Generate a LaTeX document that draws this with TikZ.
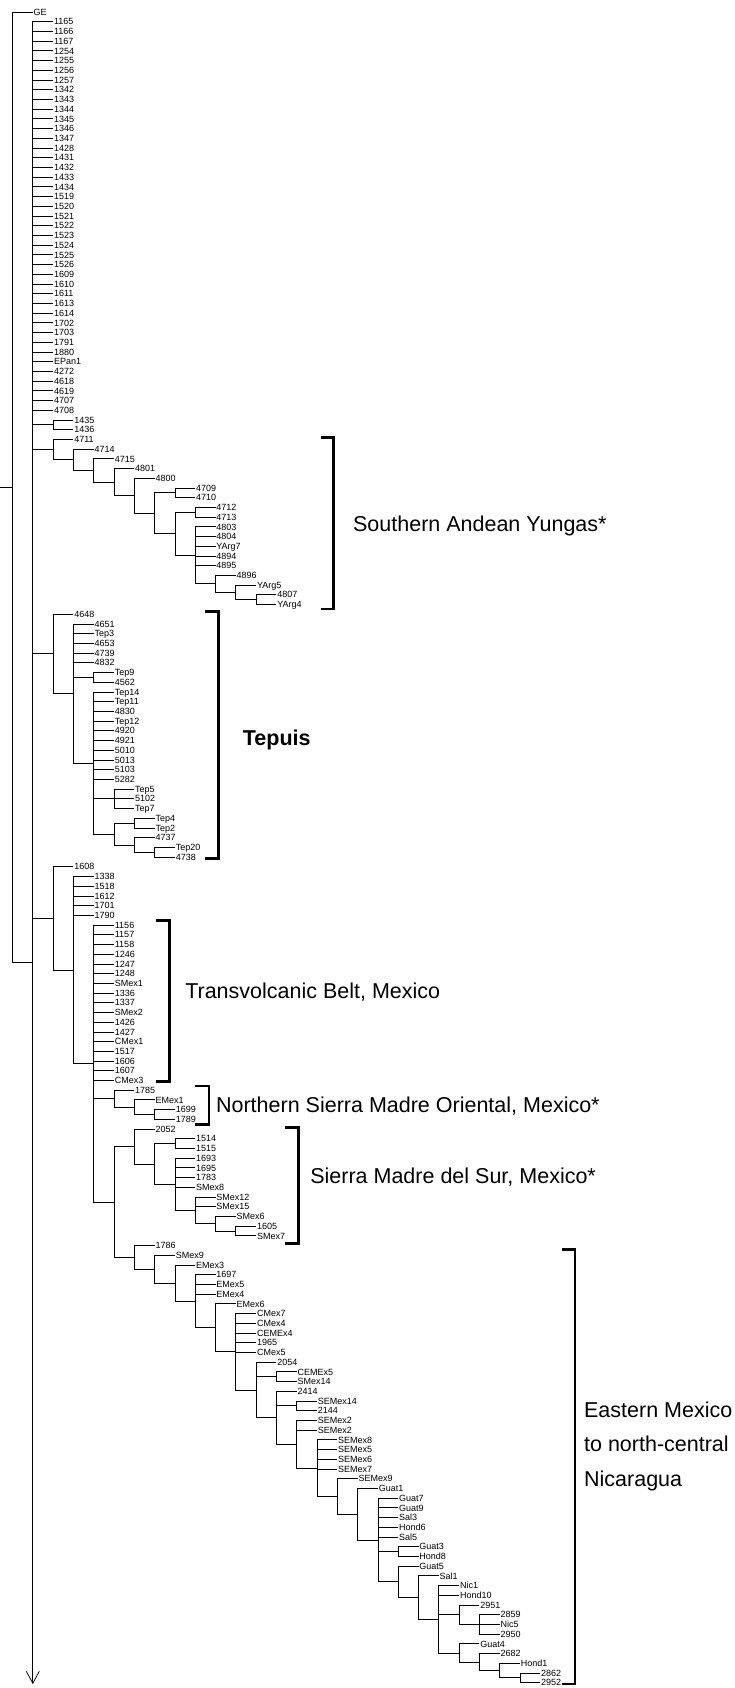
\documentclass[tikz,border=0pt]{standalone}
\usepackage{fontspec}
\setmainfont{Liberation Sans}
\usetikzlibrary{arrows.meta, positioning}

% parent, level, first row, labels
\newcommand{\taxa}[4]{%
  \foreach \t [count=\r from #3] in {#4} {
    \node[leaf] (t\t) at (#2,\r) {\t};
    \draw[branch] (#1) |- (t\t);
  }}

\begin{document}
\begin{tikzpicture}[x=20.3pt,y=-9.713pt,>={Straight Barb[length=12pt,width=13pt]},
        leaf/.style={anchor=west,inner sep=0.9pt,outer sep=0pt,text height=6.4pt,text depth=0pt,font=\fontsize{9}{9}\selectfont},
        branch/.style={line width=0.75pt},
        bracket/.style={line width=2.6pt,line join=miter},
        group/.style={anchor=base west,inner sep=0pt,font=\fontsize{21.5}{34.4}\selectfont}]

    \useasboundingbox (-0.616,-1.236) rectangle (35.542,172.552);

    % root and outgroup
    \coordinate (stub) at (-0.616,48.905);
    \coordinate (R) at (0,48.905);
    \coordinate (A) at (1,97.81);
    \coordinate (tail) at (1,172.15);
    \node[leaf] (tGE) at (1,0) {GE};
    \draw[branch] (stub) -- (R) (R) |- (tGE) (R) |- (A);
    \draw[branch,->] (A) -- (tail);

    \taxa{A}{2}{1}{1165,1166,1167,1254,1255,1256,1257,1342,1343,1344,1345,1346,1347,1428,1431,1432,1433,1434,1519,1520,1521,1522,1523,1524,1525,1526,1609,1610,1611,1613,1614,1702,1703,1791,1880,EPan1,4272,4618,4619,4707,4708}

    \coordinate (B) at (2,42.5);
    \draw[branch] (A) |- (B);
    \taxa{B}{3}{42}{1435,1436}

    % Yungas
    \coordinate (C) at (2,45.050);
    \coordinate (C1) at (3,46.101);
    \coordinate (C2) at (4,47.201);
    \coordinate (C3) at (5,48.402);
    \coordinate (C4) at (6,49.805);
    \coordinate (C5) at (7,51.609);
    \coordinate (C6) at (8,49.5);
    \coordinate (C7) at (8,53.719);
    \coordinate (C8) at (9,51.5);
    \coordinate (C9) at (9,55.938);
    \coordinate (C10) at (10,58.875);
    \coordinate (C11) at (11,59.75);
    \coordinate (C12) at (12,60.5);
    \draw[branch] (A) |- (C) (C) |- (C1) (C1) |- (C2) (C2) |- (C3) (C3) |- (C4) (C4) |- (C5)
        (C5) |- (C6) (C5) |- (C7) (C7) |- (C8) (C7) |- (C9) (C9) |- (C10) (C10) |- (C11) (C11) |- (C12);
    \taxa{C}{3}{44}{4711}
    \taxa{C1}{4}{45}{4714}
    \taxa{C2}{5}{46}{4715}
    \taxa{C3}{6}{47}{4801}
    \taxa{C4}{7}{48}{4800}
    \taxa{C6}{9}{49}{4709,4710}
    \taxa{C8}{10}{51}{4712,4713}
    \taxa{C9}{10}{53}{4803,4804,YArg7,4894,4895}
    \taxa{C10}{11}{58}{4896}
    \taxa{C11}{12}{59}{YArg5}
    \taxa{C12}{13}{60}{4807,YArg4}

    % Tepuis
    \coordinate (D) at (2,66.078);
    \coordinate (D1) at (3,70.156);
    \coordinate (D2) at (4,68.5);
    \coordinate (D3) at (4,77.313);
    \coordinate (D4) at (5,81);
    \coordinate (D5) at (5,84.625);
    \coordinate (D6) at (6,83.5);
    \coordinate (D7) at (6,85.75);
    \coordinate (D8) at (7,86.5);
    \draw[branch] (A) |- (D) (D) |- (D1) (D1) |- (D2) (D1) |- (D3) (D3) |- (D4) (D3) |- (D5)
        (D5) |- (D6) (D5) |- (D7) (D7) |- (D8);
    \taxa{D}{3}{62}{4648}
    \taxa{D1}{4}{63}{4651,Tep3,4653,4739,4832}
    \taxa{D2}{5}{68}{Tep9,4562}
    \taxa{D3}{5}{70}{Tep14,Tep11,4830,Tep12,4920,4921,5010,5013,5103,5282}
    \taxa{D4}{6}{80}{Tep5,5102,Tep7}
    \taxa{D6}{7}{83}{Tep4,Tep2}
    \taxa{D7}{7}{85}{4737}
    \taxa{D8}{8}{86}{Tep20,4738}

    % Mexico
    \coordinate (E) at (2,93.313);
    \coordinate (E1) at (3,98.627);
    \coordinate (E2) at (4,108.253);
    \coordinate (N) at (5,111.875);
    \coordinate (N1) at (6,112.75);
    \coordinate (N2) at (7,113.5);
    \coordinate (F) at (5,122.507);
    \draw[branch] (A) |- (E) (E) |- (E1) (E1) |- (E2) (E2) |- (N) (N) |- (N1) (N1) |- (N2) (E2) |- (F);
    \taxa{E}{3}{88}{1608}
    \taxa{E1}{4}{89}{1338,1518,1612,1701,1790}
    \taxa{E2}{5}{94}{1156,1157,1158,1246,1247,1248,SMex1,1336,1337,SMex2,1426,1427,CMex1,1517,1606,1607,CMex3}
    \taxa{N}{6}{111}{1785}
    \taxa{N1}{7}{112}{EMex1}
    \taxa{N2}{8}{113}{1699,1789}

    \coordinate (S) at (6,116.797);
    \coordinate (S1) at (7,118.594);
    \coordinate (S2) at (8,116.5);
    \coordinate (S3) at (8,120.688);
    \coordinate (S4) at (9,123.375);
    \coordinate (S5) at (10,124.75);
    \coordinate (S6) at (11,125.5);
    \draw[branch] (F) |- (S) (S) |- (S1) (S1) |- (S2) (S1) |- (S3) (S3) |- (S4) (S4) |- (S5) (S5) |- (S6);
    \taxa{S}{7}{115}{2052}
    \taxa{S2}{9}{116}{1514,1515}
    \taxa{S3}{9}{118}{1693,1695,1783,SMex8}
    \taxa{S4}{10}{122}{SMex12,SMex15}
    \taxa{S5}{11}{124}{SMex6}
    \taxa{S6}{12}{125}{1605,SMex7}

    \coordinate (G) at (6,128.217);
    \coordinate (G1) at (7,129.433);
    \coordinate (G2) at (8,130.867);
    \coordinate (G3) at (9,132.733);
    \coordinate (G4) at (10,135.466);
    \coordinate (G5) at (11,137.932);
    \coordinate (G6) at (12,141.864);
    \coordinate (G7) at (13,140.5);
    \coordinate (G8) at (13,144.728);
    \coordinate (G9) at (14,143.5);
    \coordinate (G10) at (14,147.457);
    \coordinate (G11) at (15,149.914);
    \coordinate (G12) at (16,152.827);
    \coordinate (G13) at (17,154.654);
    \coordinate (G14) at (18,157.309);
    \coordinate (G15) at (19,158.5);
    \coordinate (G16) at (19,161.617);
    \coordinate (G17) at (20,163.234);
    \coordinate (G18) at (21,165.469);
    \coordinate (G19) at (22,165);
    \coordinate (G20) at (23,166);
    \coordinate (G21) at (22,168.938);
    \coordinate (G22) at (23,169.875);
    \coordinate (G23) at (24,170.75);
    \coordinate (G24) at (25,171.5);
    \draw[branch] (F) |- (G) (G) |- (G1) (G1) |- (G2) (G2) |- (G3) (G3) |- (G4) (G4) |- (G5) (G5) |- (G6)
        (G6) |- (G7) (G6) |- (G8) (G8) |- (G9) (G8) |- (G10) (G10) |- (G11) (G11) |- (G12) (G12) |- (G13)
        (G13) |- (G14) (G14) |- (G15) (G14) |- (G16) (G16) |- (G17) (G17) |- (G18) (G18) |- (G19)
        (G19) |- (G20) (G18) |- (G21) (G21) |- (G22) (G22) |- (G23) (G23) |- (G24);
    \taxa{G}{7}{127}{1786}
    \taxa{G1}{8}{128}{SMex9}
    \taxa{G2}{9}{129}{EMex3}
    \taxa{G3}{10}{130}{1697,EMex5,EMex4}
    \taxa{G4}{11}{133}{EMex6}
    \taxa{G5}{12}{134}{CMex7,CMex4,CEMEx4,1965,CMex5}
    \taxa{G6}{13}{139}{2054}
    \taxa{G7}{14}{140}{CEMEx5,SMex14}
    \taxa{G8}{14}{142}{2414}
    \taxa{G9}{15}{143}{SEMex14,2144}
    \taxa{G10}{15}{145}{SEMex2,SEMex2}
    \taxa{G11}{16}{147}{SEMex8,SEMex5,SEMex6,SEMex7}
    \taxa{G12}{17}{151}{SEMex9}
    \taxa{G13}{18}{152}{Guat1}
    \taxa{G14}{19}{153}{Guat7,Guat9,Sal3,Hond6,Sal5}
    \taxa{G15}{20}{158}{Guat3,Hond8}
    \taxa{G16}{20}{160}{Guat5}
    \taxa{G17}{21}{161}{Sal1}
    \taxa{G18}{22}{162}{Nic1,Hond10}
    \taxa{G19}{23}{164}{2951}
    \taxa{G20}{24}{165}{2859,Nic5,2950}
    \taxa{G21}{23}{168}{Guat4}
    \taxa{G22}{24}{169}{2682}
    \taxa{G23}{25}{170}{Hond1}
    \taxa{G24}{26}{171}{2862,2952}

    % brackets
    \draw[bracket] (15.18,43.79) -- (15.80,43.79) -- (15.80,61.46) -- (15.18,61.46);
    \draw[bracket] (9.48,61.74) -- (10.14,61.74) -- (10.14,87.13) -- (9.48,87.13);
    \draw[bracket] (7.05,93.56) -- (7.72,93.56) -- (7.72,110.13) -- (7.05,110.13);
    \draw[bracket] (8.99,110.57) -- (9.68,110.57) -- (9.68,114.52) -- (8.99,114.52);
    \draw[bracket] (13.42,114.83) -- (14.08,114.83) -- (14.08,126.77) -- (13.42,126.77);
    \draw[bracket] (27.07,127.42) -- (27.71,127.42) -- (27.71,172.14) -- (27.07,172.14);

    \node[group] (yungas) at (16.77,53.5) {Southern Andean Yungas*};
    \node[group,font=\fontsize{21.5}{34.4}\selectfont\bfseries] (tepuis) at (11.34,75.5) {Tepuis};
    \node[group] (tvb) at (8.50,101.55) {Transvolcanic Belt, Mexico};
    \node[group] (nsmo) at (10.02,113.32) {Northern Sierra Madre Oriental, Mexico*};
    \node[group] (sms) at (14.66,120.66) {Sierra Madre del Sur, Mexico*};
    \node[group,anchor=west,align=left] (east) at (28.15,147.64) {Eastern Mexico\\to north-central\\Nicaragua};
\end{tikzpicture}
\end{document}
